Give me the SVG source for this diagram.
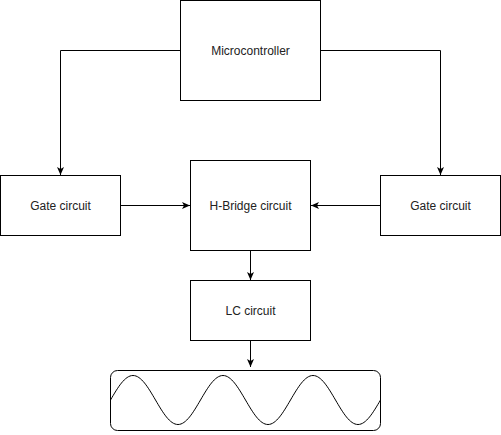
<svg xmlns="http://www.w3.org/2000/svg" width="501" height="435" viewBox="0 0 501 435">
<style>
.box{fill:#fff;stroke:#000;stroke-width:1}
.lbl{font-family:"Liberation Sans",Arial,sans-serif;font-size:12px;fill:#222;text-anchor:middle;dominant-baseline:central}
.edge{fill:none;stroke:#000;stroke-width:1}
</style>
<defs>
<marker id="arr" viewBox="0 0 8 7" refX="8" refY="3.5" markerWidth="8" markerHeight="7" markerUnits="userSpaceOnUse" orient="auto">
<path d="M0,0 L8,3.5 L0,7 L2,3.5 z" fill="#000"/>
</marker>
</defs>
<rect width="501" height="435" fill="#fff"/>
<g id="connectors">
<path class="edge" d="M180.5,50.5 H60.5 V175" marker-end="url(#arr)"/>
<path class="edge" d="M320.5,50.5 H440.5 V175" marker-end="url(#arr)"/>
<path class="edge" d="M120.5,205.5 H190" marker-end="url(#arr)"/>
<path class="edge" d="M380.5,205.5 H311" marker-end="url(#arr)"/>
<path class="edge" d="M250.5,250.5 V280" marker-end="url(#arr)"/>
<path class="edge" d="M250.5,340.5 V367" marker-end="url(#arr)"/>
</g>
<g id="microcontroller">
<rect class="box" x="180.5" y="0.5" width="140" height="100"/>
<text class="lbl" x="250.5" y="51">Microcontroller</text>
</g>
<g id="gate-left">
<rect class="box" x="0.5" y="175.5" width="120" height="60"/>
<text class="lbl" x="60.5" y="205.5">Gate circuit</text>
</g>
<g id="hbridge">
<rect class="box" x="190.5" y="160.5" width="120" height="90"/>
<text class="lbl" x="250.5" y="205.5">H-Bridge circuit</text>
</g>
<g id="gate-right">
<rect class="box" x="380.5" y="175.5" width="120" height="60"/>
<text class="lbl" x="440.5" y="205.5">Gate circuit</text>
</g>
<g id="lc">
<rect class="box" x="190.5" y="280.5" width="120" height="60"/>
<text class="lbl" x="250.5" y="310.5">LC circuit</text>
</g>
<g id="output-wave">
<rect class="box" x="110.5" y="370.5" width="270" height="60" rx="7" ry="7"/>
<path class="edge" d="M110.5,400 C117.84,387.45 124.86,375.5 133,375.5 S148.16,387.45 155.5,400 S169.86,424.5 178,424.5 S193.16,412.55 200.5,400 S214.86,375.5 223,375.5 S238.16,387.45 245.5,400 S259.86,424.5 268,424.5 S283.16,412.55 290.5,400 S304.86,375.5 313,375.5 S328.16,387.45 335.5,400 S349.86,424.5 358,424.5 S373.16,412.55 380.5,400"/>
</g>
</svg>
